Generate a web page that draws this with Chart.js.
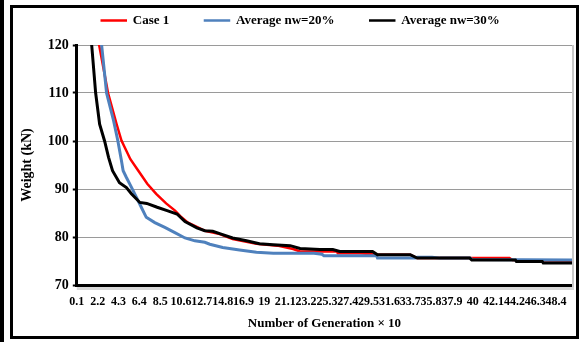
<!DOCTYPE html>
<html>
<head>
<meta charset="utf-8">
<script src="https://cdn.jsdelivr.net/npm/chart.js@4/dist/chart.umd.min.js"></script>
<style>
  body { margin: 0; background: #fff; width: 580px; height: 342px; position: relative; overflow: hidden; }
  #bar { position: absolute; left: 0; top: 0; width: 4px; height: 342px; background: #000; }
  #frame { position: absolute; left: 10px; top: 5px; width: 563px; height: 328px; border: 3px solid #000; background: #fff; }
  #c { position: absolute; left: 0; top: 0; }
</style>
</head>
<body>
<div id="bar"></div>
<div id="frame"><canvas id="c" width="563" height="328"></canvas></div>
<script>
// generation (x10) tick labels shown under the axis
let xTicks = [0.1, 2.2, 4.3, 6.4, 8.5, 10.6, 12.7, 14.8, 16.9, 19, 21.1, 23.2,
  25.3, 27.4, 29.5, 31.6, 33.7, 35.8, 37.9, 40, 42.1, 44.2, 46.3, 48.4];

// Case 1
let caseGen = [0.1, 1.2, 2.35, 3.25, 4.1, 4.6, 5.5, 6.3, 7.2, 8.1, 9.1, 10.0, 10.65, 11.3,
  12.3, 13.0, 14.5, 15.8, 18.2, 20.3, 21.9, 22.6, 26.3, 26.4, 28.6, 30.4, 33.7, 34.4,
  43.7, 44.0, 50];
let caseW = [145, 132, 120, 110, 103.6, 100.1, 96.2, 93.8, 91.1, 89, 87, 85.5, 84.1, 83,
  82, 81.3, 80.6, 79.6, 78.6, 78.2, 77.5, 77.0, 77.0, 76.6, 76.6, 76.3, 76.3, 75.6,
  75.6, 75.2, 75.1];

// Average nw=20%
let nw20Gen = [0.1, 1.5, 2.6, 3.1, 3.8, 4.23, 4.6, 4.77, 5.1, 5.6, 6.1, 6.6, 7.1, 7.96, 8.97,
  9.98, 11.0, 12.0, 13.0, 13.5, 14.8, 16.5, 18.2, 19.9, 24.0, 24.8, 25.0, 30.3, 30.4,
  34.2, 34.4, 35.9, 36.7, 39.7, 40.0, 50];
let nw20W = [170, 135, 120, 110, 104.3, 100.1, 95.9, 93.8, 92.4, 90.4, 88.3, 86.2, 84.1, 83, 82,
  80.9, 79.8, 79.2, 78.9, 78.5, 77.8, 77.3, 76.8, 76.6, 76.6, 76.4, 76.1, 76.1, 75.6,
  75.6, 75.8, 75.8, 75.6, 75.6, 75.3, 75.2];

// Average nw=30%
let nw30Gen = [0.1, 1.0, 1.6, 2.0, 2.4, 2.9, 3.3, 3.7, 4.4, 5.1, 5.6, 6.45, 7.15, 8.2, 9.2,
  10.2, 11.0, 12.2, 13.0, 13.8, 14.5, 15.8, 17.2, 18.5, 19.9, 21.6, 22.6, 24.6, 25.9,
  26.6, 29.9, 30.4, 33.7, 34.4, 39.7, 39.9, 44.3, 44.4, 47.0, 47.1, 50];
let nw30W = [150, 128, 120, 110, 103.5, 100, 96.6, 93.8, 91.3, 90.3, 89, 87.2, 87, 86.2, 85.5,
  84.8, 83.2, 81.9, 81.3, 81.2, 80.7, 79.8, 79.2, 78.6, 78.4, 78.2, 77.6, 77.4, 77.4,
  77.0, 77.0, 76.3, 76.3, 75.6, 75.6, 75.2, 75.2, 74.9, 74.9, 74.6, 74.6];

function pts(xs, ys) {
  return xs.map((x, i) => ({ x: x, y: ys[i] }));
}

const serif = 'Liberation Serif';

// grey drop shadow on the right and under the plot area
const plotShadow = {
  id: 'plotShadow',
  beforeDatasetsDraw(chart) {
    const a = chart.chartArea;
    const ctx = chart.ctx;
    ctx.save();
    ctx.fillStyle = '#c8c8c8';
    ctx.fillRect(a.right, a.top, 2, a.bottom - a.top + 4);
    ctx.fillStyle = '#d8d8d8';
    ctx.fillRect(a.left, a.bottom + 2, a.right - a.left + 2, 3);
    ctx.restore();
  }
};

// extra room between legend and plot, legend nudged a bit right
const legendGap = {
  id: 'legendGap',
  beforeInit(chart) {
    const fit = chart.legend.fit;
    chart.legend.fit = function () {
      fit.bind(chart.legend)();
      this.height += 8;
    };
  },
  afterLayout(chart) {
    chart.legend.left += 5;
    chart.legend.right += 5;
  }
};

new Chart(document.getElementById('c'), {
  type: 'line',
  data: {
    datasets: [
      { label: 'Case 1', data: pts(caseGen, caseW), borderColor: '#ff0000', backgroundColor: '#ff0000', borderWidth: 2.5, order: 3 },
      { label: 'Average nw=20%', data: pts(nw20Gen, nw20W), borderColor: '#4f81bd', backgroundColor: '#4f81bd', borderWidth: 3, order: 2 },
      { label: 'Average nw=30%', data: pts(nw30Gen, nw30W), borderColor: '#000000', backgroundColor: '#000000', borderWidth: 3, order: 1 }
    ]
  },
  options: {
    responsive: false,
    animation: false,
    devicePixelRatio: 1,
    elements: { point: { radius: 0 }, line: { tension: 0 } },
    layout: { padding: { left: 6, right: 4, top: 0, bottom: 5 } },
    plugins: {
      tooltip: { enabled: false },
      legend: {
        position: 'top',
        labels: {
          color: '#000',
          font: { family: serif, size: 13, weight: 'bold' },
          boxWidth: 25,
          boxHeight: 1,
          padding: 6,
          sort: (a, b) => a.datasetIndex - b.datasetIndex,
          generateLabels(chart) {
            const items = Chart.defaults.plugins.legend.labels.generateLabels(chart);
            items.forEach(it => {
              if (it.datasetIndex < 2) it.text = it.text + '\u2002\u2002\u2002\u2002 ';
              it.lineWidth = 1.5;
            });
            return items;
          }
        }
      }
    },
    scales: {
      x: {
        type: 'linear',
        min: 0.1,
        max: 50,
        afterBuildTicks(scale) {
          scale.ticks = xTicks.map(v => ({ value: v }));
        },
        ticks: {
          autoSkip: false,
          maxRotation: 0,
          minRotation: 0,
          color: '#000',
          padding: 2,
          font: { family: serif, size: 12, weight: 'bold' },
          callback: v => String(v)
        },
        grid: { display: false },
        border: { display: true, color: '#000', width: 3 },
        title: {
          display: true,
          text: 'Number of Generation × 10',
          color: '#000',
          font: { family: serif, size: 13, weight: 'bold' },
          padding: { top: 4, bottom: 0 }
        }
      },
      y: {
        min: 70,
        max: 120,
        ticks: {
          stepSize: 10,
          color: '#000',
          padding: 4,
          font: { family: serif, size: 14, weight: 'bold' }
        },
        grid: { color: '#9a9a9a', lineWidth: 1, tickColor: '#000', tickLength: 4, tickWidth: 2 },
        border: { display: true, color: '#000', width: 3 },
        title: {
          display: true,
          text: 'Weight (kN)',
          color: '#000',
          font: { family: serif, size: 14, weight: 'bold' },
          padding: { top: 0, bottom: 8 }
        }
      }
    }
  },
  plugins: [plotShadow, legendGap]
});
</script>
</body>
</html>
